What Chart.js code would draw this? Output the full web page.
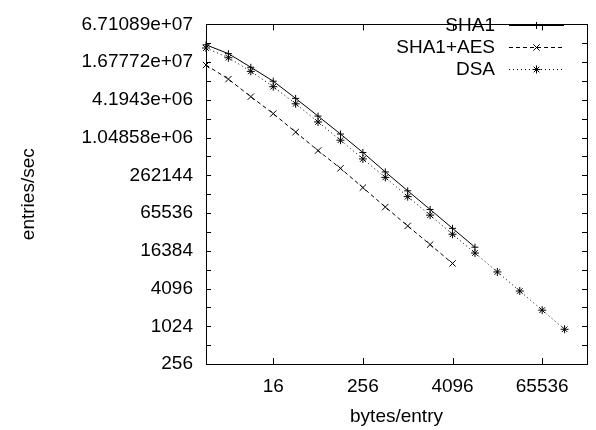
<!DOCTYPE html>
<html>
<head>
<meta charset="utf-8">
<script src="https://cdn.jsdelivr.net/npm/chart.js@4/dist/chart.umd.min.js"></script>
<style>
  html, body { margin: 0; padding: 0; background: #fff; }
  #wrap { width: 596px; height: 430px; }
</style>
</head>
<body>
<div id="wrap"><canvas id="rateChart" width="596" height="430"></canvas></div>
<script>
// x: bytes per entry (powers of two)
const bytesPerEntry = [2, 4, 8, 16, 32, 64, 128, 256, 512, 1024, 2048, 4096, 8192, 16384, 32768, 65536, 131072];

// entries/sec
const sha1Rate = [31700000, 22900000, 13900000, 8330000, 4430000, 2310000, 1196000, 607000, 297000, 148500, 74800, 37400, 18700];
const sha1AesRate = [15100000, 8990000, 4720000, 2530000, 1282000, 650000, 339000, 167000, 81800, 40900, 20600, 10300];
const dsaRate = [28200000, 19700000, 11950000, 6810000, 3630000, 1864000, 952000, 479000, 243000, 119800, 60700, 30100, 15100, 7540, 3740, 1850, 917];

// axis ticks
const xTickValues = [16, 256, 4096, 65536];
const xTickLabels = ['16', '256', '4096', '65536'];
const yTickValues = [256, 1024, 4096, 16384, 65536, 262144, 1048576, 4194304, 16777216, 67108864];
const yTickLabels = ['256', '1024', '4096', '16384', '65536', '262144', '1.04858e+06', '4.1943e+06', '1.67772e+07', '6.71089e+07'];
const yMinorTicks = [512, 2048, 8192, 32768, 131072, 524288, 2097152, 8388608, 33554432];

const FONT = 'Liberation Sans, Arial, Helvetica, sans-serif';
const FONT_SIZE = 19;

function toPoints(values) {
  return values.map((v, i) => ({ x: bytesPerEntry[i], y: v }));
}

// frame + inward tick marks, gnuplot style
const frameTicks = {
  id: 'frameTicks',
  afterDatasetsDraw(chart) {
    const { ctx, chartArea: a, scales } = chart;
    ctx.save();
    ctx.strokeStyle = '#000';
    ctx.lineWidth = 1;
    ctx.strokeRect(Math.round(a.left) + 0.5, Math.round(a.top) + 0.5,
      Math.round(a.right - a.left), Math.round(a.bottom - a.top));
    ctx.beginPath();
    xTickValues.forEach(v => {
      const px = Math.round(scales.x.getPixelForValue(v)) + 0.5;
      ctx.moveTo(px, a.bottom); ctx.lineTo(px, a.bottom - 6);
      ctx.moveTo(px, a.top); ctx.lineTo(px, a.top + 6);
    });
    yTickValues.concat(yMinorTicks).forEach(v => {
      const py = Math.round(scales.y.getPixelForValue(v)) + 0.5;
      ctx.moveTo(a.left, py); ctx.lineTo(a.left + 5, py);
      ctx.moveTo(a.right, py); ctx.lineTo(a.right - 5, py);
    });
    ctx.stroke();
    ctx.restore();
  }
};

// legend in the top right corner: text right aligned, sample line to its right
const innerLegend = {
  id: 'innerLegend',
  afterDraw(chart) {
    const ctx = chart.ctx;
    const textRight = 495, lineLeft = 509, lineRight = 564;
    ctx.save();
    ctx.font = FONT_SIZE + 'px ' + FONT;
    ctx.textAlign = 'right';
    ctx.textBaseline = 'middle';
    chart.data.datasets.forEach((ds, i) => {
      const y = 25 + i * 22;
      ctx.fillStyle = '#000';
      ctx.fillText(ds.label, textRight, y + 1);
      ctx.strokeStyle = ds.borderColor;
      ctx.lineWidth = 1;
      ctx.setLineDash(ds.borderDash || []);
      ctx.beginPath();
      ctx.moveTo(lineLeft, y + 0.5);
      ctx.lineTo(lineRight, y + 0.5);
      ctx.stroke();
      ctx.setLineDash([]);
      Chart.helpers.drawPoint(ctx, {
        pointStyle: ds.pointStyle, radius: ds.pointRadius, borderWidth: 1
      }, (lineLeft + lineRight) / 2, y + 0.5);
    });
    ctx.restore();
  }
};

const commonDs = {
  borderColor: '#000',
  backgroundColor: '#000',
  pointBorderColor: '#000',
  borderWidth: 1,
  pointBorderWidth: 1,
  showLine: true,
  fill: false,
  tension: 0,
  clip: false
};

new Chart(document.getElementById('rateChart'), {
  type: 'scatter',
  data: {
    datasets: [
      Object.assign({}, commonDs, { label: 'SHA1', data: toPoints(sha1Rate), pointStyle: 'cross', pointRadius: 3.5, borderDash: [] }),
      Object.assign({}, commonDs, { label: 'SHA1+AES', data: toPoints(sha1AesRate), pointStyle: 'crossRot', pointRadius: 4.5, borderDash: [4, 3] }),
      Object.assign({}, commonDs, { label: 'DSA', data: toPoints(dsaRate), pointStyle: 'star', pointRadius: 4, borderDash: [1, 3] })
    ]
  },
  options: {
    responsive: false,
    animation: false,
    layout: { padding: { top: 15, right: 9, left: 0, bottom: 0 } },
    plugins: {
      legend: { display: false },
      tooltip: { enabled: false }
    },
    scales: {
      x: {
        type: 'logarithmic',
        min: 2,
        max: 262144,
        afterBuildTicks: scale => { scale.ticks = xTickValues.map(v => ({ value: v })); },
        afterFit: scale => { scale.height = 66; },
        grid: { display: false, drawTicks: false },
        border: { display: false },
        ticks: {
          color: '#000',
          padding: 11,
          maxRotation: 0,
          autoSkip: false,
          font: { family: FONT, size: FONT_SIZE },
          callback: value => {
            const i = xTickValues.indexOf(value);
            return i >= 0 ? xTickLabels[i] : '';
          }
        },
        title: {
          display: true,
          text: 'bytes/entry',
          color: '#000',
          font: { family: FONT, size: FONT_SIZE },
          padding: { top: 0, bottom: 2 }
        }
      },
      y: {
        type: 'logarithmic',
        min: 256,
        max: 67108864,
        afterBuildTicks: scale => { scale.ticks = yTickValues.map(v => ({ value: v })); },
        afterFit: scale => { scale.width = 206; },
        grid: { display: false, drawTicks: false },
        border: { display: false },
        ticks: {
          color: '#000',
          padding: 13,
          autoSkip: false,
          font: { family: FONT, size: FONT_SIZE },
          callback: value => {
            const i = yTickValues.indexOf(value);
            return i >= 0 ? yTickLabels[i] : '';
          }
        },
        title: {
          display: true,
          text: 'entries/sec',
          color: '#000',
          font: { family: FONT, size: FONT_SIZE },
          padding: { top: 17, bottom: 0 }
        }
      }
    }
  },
  plugins: [frameTicks, innerLegend]
});
</script>
</body>
</html>
